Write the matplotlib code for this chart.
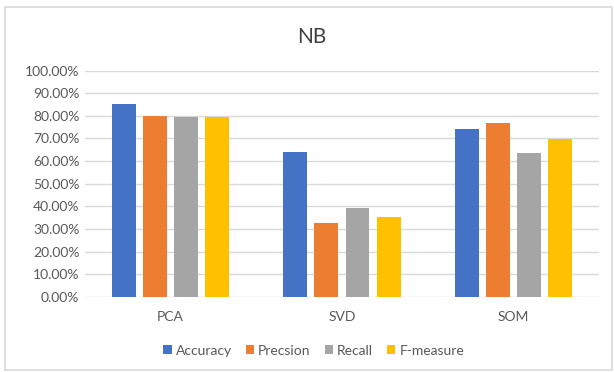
import numpy as np
import matplotlib
matplotlib.use('Agg')
import matplotlib.pyplot as plt
from matplotlib.patches import Rectangle
from matplotlib.ticker import FuncFormatter

plt.rcParams['font.family'] = ['Lato', 'DejaVu Sans']

methods = ['PCA', 'SVD', 'SOM']
series = ['Accuracy', 'Precsion', 'Recall', 'F-measure']
accuracy = [0.851, 0.640, 0.743]
precision = [0.800, 0.325, 0.770]
recall = [0.797, 0.394, 0.637]
f_measure = [0.797, 0.353, 0.696]
colors = ['#4472C4', '#ED7D31', '#A5A5A5', '#FFC000']

fig = plt.figure(figsize=(6.14, 3.72), dpi=100)
ax = fig.add_axes([0.1384, 0.2024, 0.8372, 0.6076])

x = np.arange(len(methods))
w = 0.14
step = 0.181
for i, (vals, name) in enumerate(zip([accuracy, precision, recall, f_measure], series)):
    ax.bar(x + (i - 1.5) * step, vals, w, color=colors[i], label=name, zorder=3)

ax.set_xlim(-0.5, 2.5)
ax.set_ylim(0, 1.0)
ax.set_yticks(np.arange(0, 1.01, 0.1))
ax.yaxis.set_major_formatter(FuncFormatter(lambda v, p: '%.2f%%' % (v * 100)))
ax.set_xticks(x)
ax.set_xticklabels(methods)
ax.grid(axis='y', color='#d9d9d9', linewidth=1, zorder=0)
for s in ax.spines.values():
    s.set_visible(False)
ax.tick_params(length=0, labelsize=10, colors='#595959', pad=4)
ax.tick_params(axis='x', pad=10)

fig.text(0.508, 0.9, 'NB', ha='center', va='center', fontsize=15, color='#404040')

leg = fig.legend(loc='center', bbox_to_anchor=(0.511, 0.057), ncol=4, frameon=False,
                 fontsize=10, handlelength=0.6, handleheight=0.6, handletextpad=0.3,
                 columnspacing=1.0)
for t in leg.get_texts():
    t.set_color('#595959')

fig.patches.append(Rectangle((5 / 614, 2 / 372), 607 / 614, 363 / 372, transform=fig.transFigure,
                             fill=False, edgecolor='#d9d9d9', linewidth=1.2))

fig.savefig('out.png', dpi=100)
